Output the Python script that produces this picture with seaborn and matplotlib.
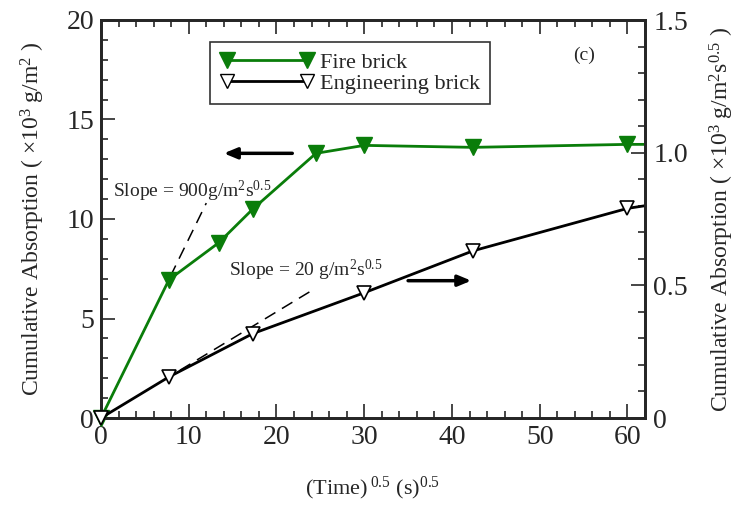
import matplotlib
matplotlib.use("Agg")
import matplotlib.pyplot as plt
import seaborn as sns
import pandas as pd
from matplotlib.ticker import MultipleLocator
from matplotlib.lines import Line2D

# ---- data ----
fire_t = [0, 7.75, 13.4, 17.3, 24.5, 30.0, 42.4, 60.0]
fire_v = [0, 6.95, 8.8, 10.5, 13.3, 13.7, 13.6, 13.75]
eng_t = [0, 7.75, 17.3, 30.0, 42.4, 60.0]
eng_v = [0, 0.155, 0.318, 0.472, 0.63, 0.79]
fire_line_end = (62, 13.75)
eng_line_end = (62, 0.80)
fire_slope = 0.9     # x10^3 g/m^2 per s^0.5
eng_slope = 0.02
fire_dash_t = [7.9, 12.0]
eng_dash_t = [9.0, 24.0]
legend_labels = ['Fire brick', 'Engineering brick']

sns.set_style("ticks")
plt.rcParams['font.family'] = ['Liberation Serif', 'DejaVu Serif']
plt.rcParams['mathtext.fontset'] = 'custom'
plt.rcParams['mathtext.rm'] = 'Liberation Serif'
plt.rcParams['mathtext.it'] = 'Liberation Serif:italic'
plt.rcParams['mathtext.bf'] = 'Liberation Serif:bold'

green = '#0a7d0a'

fig = plt.figure(figsize=(7.43, 5.11), dpi=100)
ax = fig.add_axes([101/743, 1-418/511, (645-101)/743, (418-20)/511])
ax2 = ax.twinx()

fire_df = pd.DataFrame({'t': fire_t, 'v': fire_v})
eng_df = pd.DataFrame({'t': eng_t, 'v': eng_v})

# lines extended to the right edge
sns.lineplot(x=fire_t + [fire_line_end[0]], y=fire_v + [fire_line_end[1]], ax=ax,
             color=green, lw=2, sort=False, legend=False)
sns.lineplot(x=eng_t + [eng_line_end[0]], y=eng_v + [eng_line_end[1]], ax=ax2,
             color='black', lw=2, sort=False, legend=False)
# markers
ax.plot(fire_df['t'], fire_df['v'], linestyle='none', marker='v', ms=11,
        color=green, mec=green, clip_on=False, zorder=5)
ax2.plot(eng_df['t'], eng_df['v'], linestyle='none', marker='v', ms=10,
         mfc='white', mec='black', mew=1.2, clip_on=False, zorder=5)

# slope dashed lines
ax.plot(fire_dash_t, [fire_slope*t for t in fire_dash_t], color='black', lw=1.1,
        dashes=(8, 5))
ax2.plot(eng_dash_t, [eng_slope*t for t in eng_dash_t], color='black', lw=1.1,
         dashes=(8, 5))

# arrows
ax.annotate('', xy=(14.0, 13.3), xytext=(21.8, 13.3),
            arrowprops=dict(arrowstyle='-|>,head_length=0.6,head_width=0.25',
                            color='black', lw=2.5,
                            mutation_scale=13, shrinkA=0, shrinkB=0))
ax.annotate('', xy=(42.2, 6.9), xytext=(35.0, 6.9),
            arrowprops=dict(arrowstyle='-|>,head_length=0.6,head_width=0.25',
                            color='black', lw=2.5,
                            mutation_scale=13, shrinkA=0, shrinkB=0))

# annotations
ax.text(1.4, 11.4, 'Slope = 900g/m$^2$s$^{0.5}$', fontsize=14, va='center', ha='left')
ax.text(14.6, 7.4, 'Slope = 20 g/m$^2$s$^{0.5}$', fontsize=14, va='center', ha='left')
ax.text(55.0, 18.2, '(c)', fontsize=14, ha='center', va='center')

# axes limits and ticks
ax.set_xlim(0, 62)
ax.set_ylim(0, 20)
ax2.set_ylim(0, 1.5)
ax.xaxis.set_major_locator(MultipleLocator(10))
ax.xaxis.set_minor_locator(MultipleLocator(2))
ax.yaxis.set_major_locator(MultipleLocator(5))
ax.yaxis.set_minor_locator(MultipleLocator(1))
ax2.yaxis.set_minor_locator(MultipleLocator(0.1))
ax2.set_yticks([0, 0.5, 1.0, 1.5])
ax2.set_yticklabels(['0', '0.5', '1.0', '1.5'])

ax.tick_params(axis='both', which='major', direction='in', length=10, width=1.2,
               labelsize=20, top=True, right=False, pad=5)
ax.tick_params(axis='both', which='minor', direction='in', length=5, width=1.2,
               top=True, right=False)
ax.tick_params(axis='x', which='both', bottom=True)
ax2.tick_params(axis='y', which='major', direction='in', length=10, width=1.2,
                labelsize=20, pad=6)
ax2.tick_params(axis='y', which='minor', direction='in', length=5, width=1.2)

for a in (ax, ax2):
    for s in a.spines.values():
        s.set_linewidth(2)
        s.set_visible(True)

ax.set_xlabel('(Time)$^{\\;0.5}$ (s)$^{0.5}$', fontsize=16, labelpad=18)
ax.set_ylabel('Cumulative Absorption ( \u00d710$^3$ g/m$^2$ )', fontsize=17, labelpad=14)
ax2.set_ylabel('Cumulative Absorption ( \u00d710$^3$ g/m$^2$s$^{0.5}$ )', fontsize=17,
               labelpad=14)

# legend
h1 = Line2D([], [], color=green, lw=2, marker='v', ms=11, mfc=green, mec=green)
h2 = Line2D([], [], color='black', lw=2, marker='v', ms=10, mfc='white', mec='black')
leg = ax.legend([h1, h2], legend_labels,
                loc='upper left', bbox_to_anchor=(210/743, 1-42/511),
                bbox_transform=fig.transFigure, numpoints=2, handlelength=4.2,
                fontsize=16, frameon=True, fancybox=False, edgecolor='black',
                borderpad=0.45, labelspacing=0.05, handletextpad=0.3, borderaxespad=0)
leg.get_frame().set_linewidth(1.2)
leg.set_zorder(10)

fig.savefig('out.png', dpi=100)
